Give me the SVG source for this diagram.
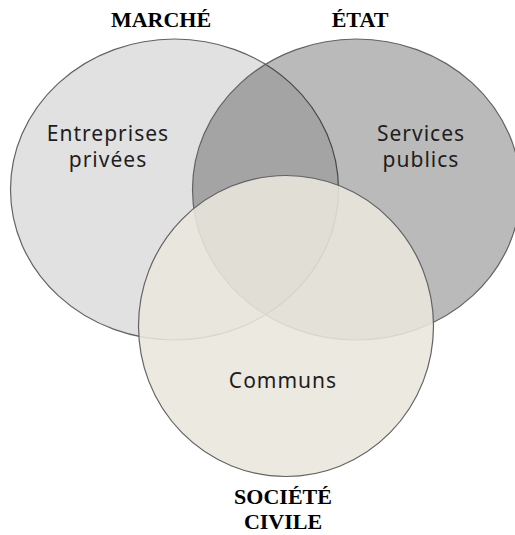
<svg xmlns="http://www.w3.org/2000/svg" width="515" height="535" viewBox="0 0 515 535">
<style>
.set{stroke:#626262;stroke-width:1.2}
.lbl{font-family:"Noto Sans","Open Sans",sans-serif;font-size:21px;fill:#1e1e1e;text-anchor:middle;letter-spacing:1px}
.ttl{font-family:"Liberation Serif","Times New Roman",serif;font-size:22px;font-weight:bold;fill:#000;text-anchor:middle}
</style>
<rect width="515" height="535" fill="#fff"/>
<g id="marche">
<ellipse class="set" cx="174.5" cy="189.5" rx="164" ry="150.5" fill="#e1e1e1"/>
</g>
<g id="etat">
<ellipse class="set" cx="356.5" cy="189.5" rx="164" ry="150.5" fill="#000" fill-opacity="0.27"/>
</g>
<g id="societe-civile">
<ellipse class="set" cx="286" cy="326" rx="147.5" ry="150.5" fill="rgb(233,230,221)" fill-opacity="0.88"/>
</g>
<g id="connectors"></g>
<g id="labels">
<text class="lbl" x="108" y="141">Entreprises</text>
<text class="lbl" x="108" y="167">privées</text>
<text class="lbl" x="421" y="141">Services</text>
<text class="lbl" x="421" y="167">publics</text>
<text class="lbl" x="283" y="388">Communs</text>
<text class="ttl" x="161" y="27">MARCHÉ</text>
<text class="ttl" x="360" y="27">ÉTAT</text>
<text class="ttl" x="283" y="504">SOCIÉTÉ</text>
<text class="ttl" x="283" y="529">CIVILE</text>
</g>
</svg>
